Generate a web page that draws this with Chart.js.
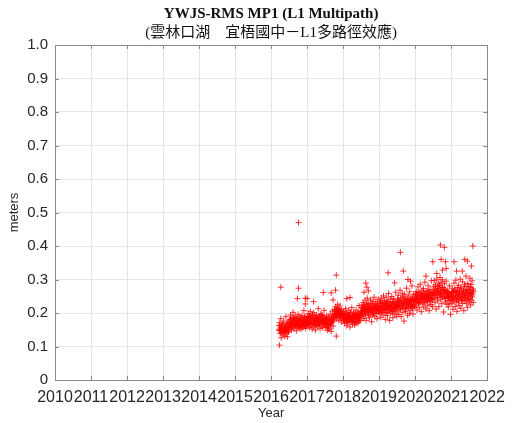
<!DOCTYPE html>
<html>
<head>
<meta charset="utf-8">
<script src="https://cdn.jsdelivr.net/npm/chart.js@4"></script>
<style>
  html, body { margin: 0; padding: 0; background: #fff; }
  #wrap { width: 513px; height: 423px; position: relative; }
</style>
</head>
<body>
<div id="wrap"><canvas id="mp1Chart"></canvas></div>
<script>
// Station YWJS, RMS of L1 multipath (MP1), in meters
const TITLE    = 'YWJS-RMS MP1 (L1 Multipath)';
const SUBTITLE = '(雲林口湖\u3000宜梧國中－L1多路徑效應)';
const X_TICKS  = [2010, 2011, 2012, 2013, 2014, 2015, 2016, 2017, 2018, 2019, 2020, 2021, 2022];
const Y_TICKS  = [0, 0.1, 0.2, 0.3, 0.4, 0.5, 0.6, 0.7, 0.8, 0.9, 1.0];

// [decimal year, rms meters]
const mp2016 = [
  [2016.22,0.162],[2016.23,0.148],[2016.24,0.171],[2016.25,0.139],[2016.26,0.155],[2016.27,0.183],[2016.28,0.126],[2016.29,0.151],
  [2016.30,0.144],[2016.31,0.167],[2016.32,0.158],[2016.33,0.135],[2016.34,0.149],[2016.35,0.176],[2016.36,0.142],[2016.37,0.153],
  [2016.38,0.131],[2016.39,0.161],[2016.40,0.147],[2016.41,0.189],[2016.42,0.138],[2016.43,0.156],[2016.44,0.164],[2016.45,0.129],
  [2016.46,0.152],[2016.47,0.171],[2016.48,0.143],[2016.49,0.159],[2016.50,0.146],[2016.51,0.168],[2016.52,0.181],[2016.53,0.157],
  [2016.54,0.194],[2016.55,0.163],[2016.56,0.175],[2016.57,0.149],[2016.58,0.186],[2016.59,0.171],[2016.60,0.159],[2016.61,0.202],
  [2016.62,0.166],[2016.63,0.178],[2016.64,0.153],[2016.65,0.184],[2016.66,0.169],[2016.67,0.191],[2016.68,0.161],[2016.69,0.174],
  [2016.70,0.147],[2016.71,0.182],[2016.72,0.165],[2016.73,0.177],[2016.74,0.158],[2016.75,0.196],[2016.76,0.171],[2016.77,0.163],
  [2016.78,0.188],[2016.79,0.155],[2016.80,0.173],[2016.81,0.167],[2016.82,0.185],[2016.83,0.152],[2016.84,0.179],[2016.85,0.164],
  [2016.86,0.193],[2016.87,0.170],[2016.88,0.158],[2016.89,0.181],[2016.90,0.166],[2016.91,0.207],[2016.92,0.175],[2016.93,0.161],
  [2016.94,0.189],[2016.95,0.168],[2016.96,0.154],[2016.97,0.183],[2016.98,0.172],[2016.99,0.162],
  [2016.225,0.151],[2016.245,0.163],[2016.265,0.146],[2016.285,0.158],[2016.305,0.141],[2016.325,0.167],[2016.345,0.153],
  [2016.365,0.149],[2016.385,0.160],[2016.405,0.144],[2016.425,0.156],[2016.445,0.170],[2016.465,0.148],[2016.485,0.154],
  [2016.505,0.176],[2016.525,0.165],[2016.545,0.181],[2016.565,0.169],[2016.585,0.158],[2016.605,0.174],[2016.625,0.186],
  [2016.645,0.163],[2016.665,0.171],[2016.685,0.179],[2016.705,0.167],[2016.725,0.184],[2016.745,0.160],[2016.765,0.173],
  [2016.785,0.177],[2016.805,0.164],[2016.825,0.182],[2016.845,0.170],[2016.865,0.156],[2016.885,0.175],[2016.905,0.168],
  [2016.925,0.187],[2016.945,0.162],[2016.965,0.178],[2016.985,0.171]
];

const mp2017 = [
  [2017.00,0.176],[2017.01,0.189],[2017.02,0.163],[2017.03,0.198],[2017.04,0.171],[2017.05,0.184],[2017.06,0.157],[2017.07,0.192],
  [2017.08,0.168],[2017.09,0.205],[2017.10,0.174],[2017.11,0.161],[2017.12,0.187],[2017.13,0.179],[2017.14,0.152],[2017.15,0.196],
  [2017.16,0.169],[2017.17,0.183],[2017.18,0.158],[2017.19,0.201],[2017.20,0.175],[2017.21,0.166],[2017.22,0.188],[2017.23,0.149],
  [2017.24,0.181],[2017.25,0.172],[2017.26,0.194],[2017.27,0.163],[2017.28,0.186],[2017.29,0.177],[2017.30,0.159],[2017.31,0.213],
  [2017.32,0.171],[2017.33,0.184],[2017.34,0.165],[2017.35,0.190],[2017.36,0.153],[2017.37,0.179],[2017.38,0.197],[2017.39,0.168],
  [2017.40,0.182],[2017.41,0.161],[2017.42,0.193],[2017.43,0.174],[2017.44,0.156],[2017.45,0.186],[2017.46,0.170],[2017.47,0.208],
  [2017.48,0.164],[2017.49,0.178],[2017.50,0.169],[2017.51,0.183],[2017.52,0.157],[2017.53,0.176],[2017.54,0.192],[2017.55,0.162],
  [2017.56,0.148],[2017.57,0.181],[2017.58,0.171],[2017.59,0.155],[2017.60,0.188],[2017.61,0.166],[2017.62,0.174],[2017.63,0.152],
  [2017.64,0.197],[2017.65,0.168],[2017.66,0.179],[2017.67,0.145],[2017.68,0.185],[2017.69,0.172],[2017.70,0.206],[2017.71,0.178],
  [2017.72,0.161],[2017.73,0.191],[2017.74,0.183],[2017.75,0.196],[2017.76,0.211],[2017.77,0.187],[2017.78,0.204],[2017.79,0.219],
  [2017.80,0.193],[2017.81,0.208],[2017.82,0.182],[2017.83,0.215],[2017.84,0.199],[2017.85,0.226],[2017.86,0.191],[2017.87,0.205],
  [2017.88,0.178],[2017.89,0.212],[2017.90,0.197],[2017.91,0.221],[2017.92,0.186],[2017.93,0.203],[2017.94,0.194],[2017.95,0.173],
  [2017.96,0.209],[2017.97,0.188],[2017.98,0.201],[2017.99,0.184],
  [2017.005,0.182],[2017.025,0.171],[2017.045,0.189],[2017.065,0.175],[2017.085,0.166],[2017.105,0.184],[2017.125,0.177],
  [2017.145,0.193],[2017.165,0.169],[2017.185,0.180],[2017.205,0.174],[2017.225,0.187],[2017.245,0.163],[2017.265,0.179],
  [2017.285,0.185],[2017.305,0.172],[2017.325,0.190],[2017.345,0.168],[2017.365,0.181],[2017.385,0.176],[2017.405,0.195],
  [2017.425,0.170],[2017.445,0.183],[2017.465,0.173],[2017.485,0.186],[2017.505,0.172],[2017.525,0.181],[2017.545,0.166],
  [2017.565,0.177],[2017.585,0.159],[2017.605,0.183],[2017.625,0.170],[2017.645,0.176],[2017.665,0.164],[2017.685,0.188],
  [2017.705,0.174],[2017.725,0.179],[2017.745,0.191],[2017.765,0.203],[2017.785,0.192],[2017.805,0.209],[2017.825,0.198],
  [2017.845,0.214],[2017.865,0.195],[2017.885,0.202],[2017.905,0.188],[2017.925,0.207],[2017.945,0.196],[2017.965,0.191],
  [2017.985,0.199]
];

const mp2018 = [
  [2018.00,0.192],[2018.01,0.178],[2018.02,0.205],[2018.03,0.184],[2018.04,0.169],[2018.05,0.197],[2018.06,0.181],[2018.07,0.213],
  [2018.08,0.175],[2018.09,0.189],[2018.10,0.162],[2018.11,0.200],[2018.12,0.186],[2018.13,0.171],[2018.14,0.194],[2018.15,0.183],
  [2018.16,0.208],[2018.17,0.176],[2018.18,0.191],[2018.19,0.158],[2018.20,0.187],[2018.21,0.199],[2018.22,0.173],[2018.23,0.185],
  [2018.24,0.216],[2018.25,0.180],[2018.26,0.167],[2018.27,0.193],[2018.28,0.184],[2018.29,0.203],[2018.30,0.176],[2018.31,0.189],
  [2018.32,0.164],[2018.33,0.198],[2018.34,0.182],[2018.35,0.174],[2018.36,0.209],[2018.37,0.187],[2018.38,0.169],[2018.39,0.195],
  [2018.40,0.181],[2018.41,0.200],[2018.42,0.172],[2018.43,0.188],[2018.44,0.222],[2018.45,0.183],[2018.46,0.196],[2018.47,0.177],
  [2018.48,0.190],[2018.49,0.205],[2018.50,0.198],[2018.51,0.215],[2018.52,0.189],[2018.53,0.224],[2018.54,0.207],[2018.55,0.193],
  [2018.56,0.231],[2018.57,0.211],[2018.58,0.184],[2018.59,0.219],[2018.60,0.203],[2018.61,0.238],[2018.62,0.196],[2018.63,0.214],
  [2018.64,0.178],[2018.65,0.226],[2018.66,0.209],[2018.67,0.244],[2018.68,0.201],[2018.69,0.218],[2018.70,0.192],[2018.71,0.229],
  [2018.72,0.212],[2018.73,0.186],[2018.74,0.221],[2018.75,0.205],[2018.76,0.239],[2018.77,0.197],[2018.78,0.216],[2018.79,0.174],
  [2018.80,0.228],[2018.81,0.209],[2018.82,0.194],[2018.83,0.235],[2018.84,0.213],[2018.85,0.200],[2018.86,0.247],[2018.87,0.218],
  [2018.88,0.189],[2018.89,0.224],[2018.90,0.206],[2018.91,0.233],[2018.92,0.198],[2018.93,0.219],[2018.94,0.183],[2018.95,0.227],
  [2018.96,0.211],[2018.97,0.241],[2018.98,0.202],[2018.99,0.220],
  [2018.005,0.186],[2018.025,0.195],[2018.045,0.179],[2018.065,0.191],[2018.085,0.183],[2018.105,0.198],[2018.125,0.174],
  [2018.145,0.189],[2018.165,0.193],[2018.185,0.181],[2018.205,0.202],[2018.225,0.185],[2018.245,0.177],[2018.265,0.192],
  [2018.285,0.188],[2018.305,0.196],[2018.325,0.171],[2018.345,0.187],[2018.365,0.194],[2018.385,0.182],[2018.405,0.199],
  [2018.425,0.184],[2018.445,0.190],[2018.465,0.178],[2018.485,0.193],[2018.505,0.206],[2018.525,0.217],[2018.545,0.201],
  [2018.565,0.213],[2018.585,0.222],[2018.605,0.208],[2018.625,0.198],[2018.645,0.215],[2018.665,0.211],[2018.685,0.226],
  [2018.705,0.204],[2018.725,0.212],[2018.745,0.219],[2018.765,0.203],[2018.785,0.216],[2018.805,0.209],[2018.825,0.224],
  [2018.845,0.200],[2018.865,0.214],[2018.885,0.210],[2018.905,0.221],[2018.925,0.207],[2018.945,0.218],[2018.965,0.213],
  [2018.985,0.205]
];

const mp2019 = [
  [2019.00,0.214],[2019.01,0.229],[2019.02,0.198],[2019.03,0.236],[2019.04,0.209],[2019.05,0.187],[2019.06,0.245],[2019.07,0.221],
  [2019.08,0.203],[2019.09,0.232],[2019.10,0.216],[2019.11,0.194],[2019.12,0.251],[2019.13,0.225],[2019.14,0.207],[2019.15,0.238],
  [2019.16,0.212],[2019.17,0.181],[2019.18,0.229],[2019.19,0.219],[2019.20,0.247],[2019.21,0.201],[2019.22,0.226],[2019.23,0.192],
  [2019.24,0.234],[2019.25,0.215],[2019.26,0.258],[2019.27,0.206],[2019.28,0.223],[2019.29,0.178],[2019.30,0.218],[2019.31,0.241],
  [2019.32,0.199],[2019.33,0.227],[2019.34,0.211],[2019.35,0.249],[2019.36,0.205],[2019.37,0.231],[2019.38,0.186],[2019.39,0.220],
  [2019.40,0.243],[2019.41,0.208],[2019.42,0.226],[2019.43,0.196],[2019.44,0.235],[2019.45,0.214],[2019.46,0.262],[2019.47,0.203],
  [2019.48,0.228],[2019.49,0.190],[2019.50,0.224],[2019.51,0.241],[2019.52,0.207],[2019.53,0.253],[2019.54,0.219],[2019.55,0.196],
  [2019.56,0.236],[2019.57,0.228],[2019.58,0.268],[2019.59,0.211],[2019.60,0.245],[2019.61,0.189],[2019.62,0.232],[2019.63,0.217],
  [2019.64,0.259],[2019.65,0.224],[2019.66,0.202],[2019.67,0.248],[2019.68,0.231],[2019.69,0.176],[2019.70,0.214],[2019.71,0.256],
  [2019.72,0.237],[2019.73,0.205],[2019.74,0.243],[2019.75,0.222],[2019.76,0.274],[2019.77,0.213],[2019.78,0.239],[2019.79,0.193],
  [2019.80,0.228],[2019.81,0.251],[2019.82,0.216],[2019.83,0.234],[2019.84,0.199],[2019.85,0.263],[2019.86,0.225],[2019.87,0.242],
  [2019.88,0.208],[2019.89,0.236],[2019.90,0.221],[2019.91,0.281],[2019.92,0.214],[2019.93,0.247],[2019.94,0.197],[2019.95,0.232],
  [2019.96,0.255],[2019.97,0.219],[2019.98,0.240],[2019.99,0.226],
  [2019.005,0.221],[2019.025,0.212],[2019.045,0.228],[2019.065,0.206],[2019.085,0.219],[2019.105,0.232],[2019.125,0.214],
  [2019.145,0.224],[2019.165,0.201],[2019.185,0.217],[2019.205,0.229],[2019.225,0.211],[2019.245,0.223],[2019.265,0.235],
  [2019.285,0.209],[2019.305,0.220],[2019.325,0.215],[2019.345,0.227],[2019.365,0.204],[2019.385,0.218],[2019.405,0.231],
  [2019.425,0.213],[2019.445,0.225],[2019.465,0.216],[2019.485,0.222],[2019.505,0.231],[2019.525,0.219],[2019.545,0.238],
  [2019.565,0.224],[2019.585,0.212],[2019.605,0.233],[2019.625,0.227],[2019.645,0.245],[2019.665,0.221],[2019.685,0.229],
  [2019.705,0.236],[2019.725,0.214],[2019.745,0.232],[2019.765,0.226],[2019.785,0.241],[2019.805,0.218],[2019.825,0.230],
  [2019.845,0.237],[2019.865,0.223],[2019.885,0.228],[2019.905,0.243],[2019.925,0.216],[2019.945,0.234],[2019.965,0.225],
  [2019.985,0.239]
];

const mp2020 = [
  [2020.00,0.238],[2020.01,0.257],[2020.02,0.221],[2020.03,0.264],[2020.04,0.243],[2020.05,0.209],[2020.06,0.252],[2020.07,0.235],
  [2020.08,0.278],[2020.09,0.229],[2020.10,0.248],[2020.11,0.216],[2020.12,0.261],[2020.13,0.240],[2020.14,0.286],[2020.15,0.232],
  [2020.16,0.255],[2020.17,0.204],[2020.18,0.246],[2020.19,0.268],[2020.20,0.227],[2020.21,0.251],[2020.22,0.239],[2020.23,0.273],
  [2020.24,0.218],[2020.25,0.258],[2020.26,0.244],[2020.27,0.292],[2020.28,0.231],[2020.29,0.253],[2020.30,0.212],[2020.31,0.249],
  [2020.32,0.266],[2020.33,0.236],[2020.34,0.259],[2020.35,0.223],[2020.36,0.281],[2020.37,0.242],[2020.38,0.255],[2020.39,0.207],
  [2020.40,0.247],[2020.41,0.270],[2020.42,0.234],[2020.43,0.261],[2020.44,0.225],[2020.45,0.296],[2020.46,0.243],[2020.47,0.258],
  [2020.48,0.219],[2020.49,0.251],[2020.50,0.262],[2020.51,0.278],[2020.52,0.243],[2020.53,0.297],[2020.54,0.255],[2020.55,0.231],
  [2020.56,0.284],[2020.57,0.268],[2020.58,0.212],[2020.59,0.259],[2020.60,0.301],[2020.61,0.247],[2020.62,0.273],[2020.63,0.236],
  [2020.64,0.289],[2020.65,0.264],[2020.66,0.219],[2020.67,0.281],[2020.68,0.252],[2020.69,0.306],[2020.70,0.265],[2020.71,0.241],
  [2020.72,0.292],[2020.73,0.257],[2020.74,0.228],[2020.75,0.276],[2020.76,0.299],[2020.77,0.248],[2020.78,0.269],[2020.79,0.203],
  [2020.80,0.258],[2020.81,0.287],[2020.82,0.244],[2020.83,0.271],[2020.84,0.233],[2020.85,0.262],[2020.86,0.295],[2020.87,0.251],
  [2020.88,0.226],[2020.89,0.268],[2020.90,0.245],[2020.91,0.263],[2020.92,0.218],[2020.93,0.252],[2020.94,0.237],[2020.95,0.281],
  [2020.96,0.229],[2020.97,0.249],[2020.98,0.196],[2020.99,0.256],
  [2020.005,0.248],[2020.025,0.236],[2020.045,0.254],[2020.065,0.242],[2020.085,0.261],[2020.105,0.231],[2020.125,0.247],
  [2020.145,0.256],[2020.165,0.239],[2020.185,0.250],[2020.205,0.244],[2020.225,0.263],[2020.245,0.233],[2020.265,0.249],
  [2020.285,0.257],[2020.305,0.241],[2020.325,0.252],[2020.345,0.238],[2020.365,0.265],[2020.385,0.246],[2020.405,0.235],
  [2020.425,0.251],[2020.445,0.243],[2020.465,0.259],[2020.485,0.240],[2020.505,0.263],[2020.525,0.271],[2020.545,0.252],
  [2020.565,0.279],[2020.585,0.258],[2020.605,0.266],[2020.625,0.247],[2020.645,0.274],[2020.665,0.261],[2020.685,0.283],
  [2020.705,0.255],[2020.725,0.269],[2020.745,0.248],[2020.765,0.276],[2020.785,0.262],[2020.805,0.257],[2020.825,0.268],
  [2020.845,0.243],[2020.865,0.259],[2020.885,0.251],[2020.905,0.264],[2020.925,0.246],[2020.945,0.256],[2020.965,0.238],
  [2020.985,0.253]
];

const mp2021 = [
  [2021.00,0.241],[2021.01,0.262],[2021.02,0.227],[2021.03,0.274],[2021.04,0.249],[2021.05,0.211],[2021.06,0.258],[2021.07,0.236],
  [2021.08,0.289],[2021.09,0.244],[2021.10,0.267],[2021.11,0.219],[2021.12,0.253],[2021.13,0.298],[2021.14,0.232],[2021.15,0.261],
  [2021.16,0.205],[2021.17,0.247],[2021.18,0.276],[2021.19,0.238],[2021.20,0.256],[2021.21,0.283],[2021.22,0.222],[2021.23,0.265],
  [2021.24,0.243],[2021.25,0.301],[2021.26,0.251],[2021.27,0.214],[2021.28,0.272],[2021.29,0.239],[2021.30,0.259],[2021.31,0.228],
  [2021.32,0.293],[2021.33,0.248],[2021.34,0.268],[2021.35,0.207],[2021.36,0.255],[2021.37,0.284],[2021.38,0.236],[2021.39,0.263],
  [2021.40,0.245],[2021.41,0.310],[2021.42,0.229],[2021.43,0.271],[2021.44,0.252],[2021.45,0.217],[2021.46,0.288],[2021.47,0.258],
  [2021.48,0.241],[2021.49,0.279],[2021.50,0.233],[2021.51,0.266],[2021.52,0.304],[2021.53,0.249],[2021.54,0.224],[2021.55,0.285],
  [2021.56,0.261],[2021.57,0.238],[2021.58,0.296],[2021.59,0.254],[2021.60,0.272],[2021.61,0.231],[2021.62,0.263],
  [2021.005,0.248],[2021.025,0.259],[2021.045,0.237],[2021.065,0.264],[2021.085,0.245],[2021.105,0.271],[2021.125,0.252],
  [2021.145,0.241],[2021.165,0.267],[2021.185,0.256],[2021.205,0.233],[2021.225,0.262],[2021.245,0.249],[2021.265,0.275],
  [2021.285,0.244],[2021.305,0.258],[2021.325,0.238],[2021.345,0.266],[2021.365,0.251],[2021.385,0.279],[2021.405,0.246],
  [2021.425,0.261],[2021.445,0.240],[2021.465,0.270],[2021.485,0.254],[2021.505,0.263],[2021.525,0.243],[2021.545,0.276],
  [2021.565,0.257],[2021.585,0.248],[2021.605,0.268]
];

// isolated high / low days
const mpSpikes = [
  [2016.23,0.104],[2016.27,0.277],[2016.73,0.243],[2016.76,0.470],[2016.76,0.274],[2016.95,0.244],[2016.95,0.227],
  [2017.00,0.243],[2017.18,0.234],[2017.45,0.261],[2017.67,0.260],[2017.72,0.239],[2017.79,0.268],[2017.81,0.313],[2017.81,0.131],
  [2018.10,0.243],[2018.19,0.246],[2018.58,0.262],[2018.63,0.289],[2018.66,0.277],[2018.70,0.266],
  [2019.25,0.320],[2019.43,0.290],[2019.59,0.381],[2019.67,0.325],[2019.80,0.300],[2019.87,0.295],
  [2020.30,0.310],[2020.49,0.353],[2020.60,0.318],[2020.70,0.403],[2020.72,0.360],[2020.76,0.328],[2020.81,0.396],[2020.84,0.353],[2020.86,0.333],
  [2021.08,0.353],[2021.15,0.325],[2021.31,0.325],[2021.38,0.360],[2021.45,0.355],[2021.56,0.340],[2021.60,0.400]
];

const points = [...mp2016, ...mp2017, ...mp2018, ...mp2019, ...mp2020, ...mp2021, ...mpSpikes]
  .map(p => ({ x: p[0], y: p[1] }));

const AXIS = '#8a8a8a';
const GRID = '#e6e6e6';
const TEXT = '#262626';
const SANS = '"Liberation Sans", Arial, sans-serif';

// inward tick marks on all four sides + the box, matlab style
const boxPlugin = {
  id: 'box',
  afterDatasetsDraw(chart) {
    const { ctx, chartArea: a, scales: { x, y } } = chart;
    const len = 4;
    ctx.save();
    ctx.strokeStyle = AXIS;
    ctx.lineWidth = 1;
    ctx.beginPath();
    X_TICKS.forEach(v => {
      const px = Math.round(x.getPixelForValue(v)) + 0.5;
      ctx.moveTo(px, a.bottom); ctx.lineTo(px, a.bottom - len);
      ctx.moveTo(px, a.top);    ctx.lineTo(px, a.top + len);
    });
    Y_TICKS.forEach(v => {
      const py = Math.round(y.getPixelForValue(v)) + 0.5;
      ctx.moveTo(a.left, py);  ctx.lineTo(a.left + len, py);
      ctx.moveTo(a.right, py); ctx.lineTo(a.right - len, py);
    });
    ctx.stroke();
    ctx.strokeRect(Math.round(a.left) + 0.5, Math.round(a.top) + 0.5,
                   Math.round(a.right - a.left), Math.round(a.bottom - a.top));
    ctx.restore();
  },
  afterDraw(chart) {
    const { ctx, chartArea: a } = chart;
    const cx = (a.left + a.right) / 2;
    ctx.save();
    ctx.fillStyle = '#111';
    ctx.textAlign = 'center';
    ctx.textBaseline = 'middle';
    ctx.font = 'bold 15px "Liberation Serif", "Times New Roman", serif';
    ctx.fillText(TITLE, cx, 14);
    ctx.font = '15px "Liberation Serif", "Noto Sans CJK TC", serif';
    ctx.fillText(SUBTITLE, cx, 33);
    ctx.restore();
  }
};

new Chart(document.getElementById('mp1Chart'), {
  type: 'scatter',
  data: {
    datasets: [{
      label: 'MP1',
      data: points,
      pointStyle: 'cross',
      pointRadius: 3,
      pointHoverRadius: 3,
      borderWidth: 1,
      borderColor: 'rgba(255,0,0,0.8)',
      backgroundColor: 'rgba(255,0,0,0.8)'
    }]
  },
  options: {
    responsive: true,
    maintainAspectRatio: false,
    animation: false,
    layout: { padding: { top: 45, right: 19, left: 0, bottom: 0 } },
    plugins: { legend: { display: false }, tooltip: { enabled: false } },
    scales: {
      x: {
        type: 'linear', min: 2010, max: 2022,
        afterBuildTicks: s => { s.ticks = X_TICKS.map(v => ({ value: v })); },
        afterFit: s => { s.height = 43; },
        grid: { color: GRID, drawTicks: false },
        border: { display: false },
        ticks: { color: TEXT, padding: 8, maxRotation: 0, autoSkip: false,
                 font: { family: SANS, size: 16 },
                 callback: v => String(v) },
        title: { display: true, text: 'Year', color: TEXT, padding: { top: 0, bottom: 2 },
                 font: { family: SANS, size: 13 } }
      },
      y: {
        type: 'linear', min: 0, max: 1,
        afterBuildTicks: s => { s.ticks = Y_TICKS.map(v => ({ value: v })); },
        afterFit: s => { s.width = 55; },
        grid: { color: GRID, drawTicks: false },
        border: { display: false },
        ticks: { color: TEXT, padding: 7, autoSkip: false,
                 font: { family: SANS, size: 15 },
                 callback: v => v === 0 ? '0' : v.toFixed(1) },
        title: { display: true, text: 'meters', color: TEXT, padding: { top: 7, bottom: 0 },
                 font: { family: SANS, size: 13 } }
      }
    }
  },
  plugins: [boxPlugin]
});
</script>
</body>
</html>
